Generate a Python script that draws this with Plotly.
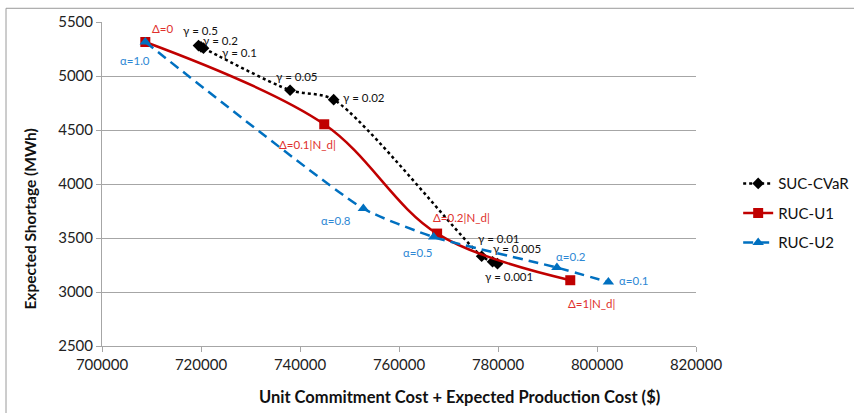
import plotly.graph_objects as go

# ---- data ----
suc_labels = ["γ = 0.5", "γ = 0.2", "γ = 0.1", "γ = 0.05", "γ = 0.02", "γ = 0.01", "γ = 0.005", "γ = 0.001"]
suc_x = [719500, 720000, 720500, 738000, 746800, 776700, 778900, 779900]
suc_y = [5282, 5270, 5258, 4868, 4781, 3331, 3280, 3262]

u1_labels = ["Δ=0", "Δ=0.1|N_d|", "Δ=0.2|N_d|", "Δ=1|N_d|"]
u1_x = [708750, 744900, 767700, 794600]
u1_y = [5315, 4553, 3541, 3109]

u2_labels = ["α=1.0", "α=0.8", "α=0.5", "α=0.2", "α=0.1"]
u2_x = [708750, 752800, 767000, 791900, 802300]
u2_y = [5315, 3772, 3509, 3226, 3093]

# label anchor positions (data coords)
suc_lab_x = [719800, 723900, 727700, 739450, 752980, 780300, 783800, 782300]
suc_lab_y = [5423, 5331, 5222, 4997, 4800, 3495, 3402, 3139]
u1_lab_x = [712180, 741570, 772580, 798900]
u1_lab_y = [5442, 4368, 3689, 2898]
u2_lab_x = [706730, 747330, 763890, 794700, 807520]
u2_lab_y = [5141, 3664, 3370, 3331, 3102]

x_ticks = [700000, 720000, 740000, 760000, 780000, 800000, 820000]
y_ticks = [2500, 3000, 3500, 4000, 4500, 5000, 5500]

BLACK = "#000000"
RED = "#C00000"
BLUE = "#0070C0"
RED_TXT = "#E0302C"
BLUE_TXT = "#2E88D4"
FONT = "Lato"

fig = go.Figure()
fig.add_trace(go.Scatter(
    x=suc_x, y=suc_y, name="SUC-CVaR", mode="lines+markers",
    line=dict(color=BLACK, width=2.5, dash="dot", shape="spline", smoothing=0.8),
    marker=dict(symbol="diamond", size=9, color=BLACK),
    legendgroup="a"))
fig.add_trace(go.Scatter(
    x=u1_x, y=u1_y, name="RUC-U1", mode="lines+markers",
    line=dict(color=RED, width=2.5, shape="spline", smoothing=1.0),
    marker=dict(symbol="square", size=10, color=RED),
    legendgroup="b"))
fig.add_trace(go.Scatter(
    x=u2_x, y=u2_y, name="RUC-U2", mode="lines+markers",
    line=dict(color=BLUE, width=2.5, dash="10px,6px", shape="spline", smoothing=0.5),
    marker=dict(symbol="triangle-up", size=10, color=BLUE),
    legendgroup="c"))

anns = []
for t, x, y in zip(suc_labels, suc_lab_x, suc_lab_y):
    anns.append(dict(x=x, y=y, text=t, showarrow=False, font=dict(family=FONT, size=11.5, color="#111111")))
for t, x, y in zip(u1_labels, u1_lab_x, u1_lab_y):
    anns.append(dict(x=x, y=y, text=t, showarrow=False, font=dict(family=FONT, size=11.5, color=RED_TXT)))
for t, x, y in zip(u2_labels, u2_lab_x, u2_lab_y):
    anns.append(dict(x=x, y=y, text=t, showarrow=False, font=dict(family=FONT, size=11.5, color=BLUE_TXT)))

# axis titles (positioned like the reference)
anns.append(dict(xref="paper", yref="paper", x=0.6015, y=-0.157, xanchor="center", yanchor="middle",
                 text="<b>Unit Commitment Cost + Expected Production Cost ($)</b>", showarrow=False,
                 font=dict(family=FONT, size=16.5, color="#111111")))
anns.append(dict(xref="paper", yref="paper", x=-0.1207, y=0.391, xanchor="center", yanchor="middle",
                 text="<b>Expected Shortage (MWh)</b>", showarrow=False, textangle=-90,
                 font=dict(family=FONT, size=15.5, color="#111111")))

fig.update_layout(
    width=854, height=413,
    margin=dict(l=101.7, r=158.3, t=21.7, b=67.3, autoexpand=False),
    paper_bgcolor="white", plot_bgcolor="white",
    font=dict(family=FONT, size=14, color="#222222"),
    annotations=anns,
    showlegend=True,
    legend=dict(x=1.071, y=0.41, xanchor="left", yanchor="middle",
                font=dict(family=FONT, size=15, color="#111111"),
                traceorder="grouped", tracegroupgap=7, bgcolor="rgba(0,0,0,0)"),
    shapes=[dict(type="rect", xref="paper", yref="paper",
                 x0=-0.1616, x1=1.35, y0=-0.3, y1=1.0423,
                 line=dict(color="#9A9A9A", width=1), fillcolor="rgba(0,0,0,0)", layer="below")],
)
fig.update_xaxes(
    range=[700000, 820000], tickvals=x_ticks, ticktext=[str(v) for v in x_ticks],
    showgrid=False, showline=True, linecolor="#A6A6A6", linewidth=1,
    ticks="outside", ticklen=5, tickcolor="#A6A6A6", zeroline=False,
    tickfont=dict(family=FONT, size=15, color="#222222"))
fig.update_yaxes(
    range=[2500, 5500], tickvals=y_ticks, ticktext=[str(v) for v in y_ticks],
    showgrid=True, gridcolor="#A6A6A6", gridwidth=1,
    showline=True, linecolor="#A6A6A6", linewidth=1,
    ticks="outside", ticklen=5, tickcolor="#A6A6A6", zeroline=False,
    tickfont=dict(family=FONT, size=15, color="#222222"))

fig.write_html("out.html", config={"displayModeBar": False},
               post_script="document.body.style.margin='0px';")
